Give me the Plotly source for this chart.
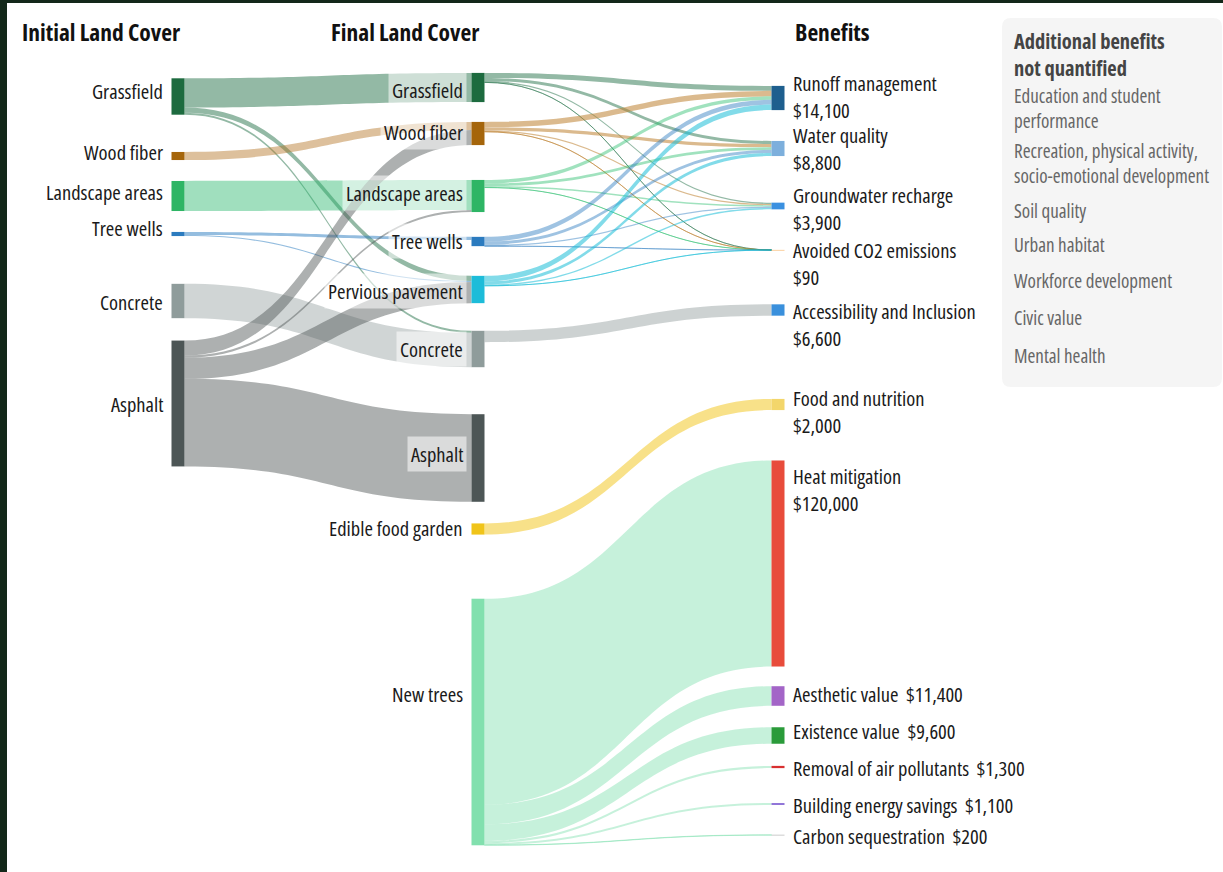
import plotly.graph_objects as go

W, H = 1223, 872

# ---------------- data ----------------
initial_nodes = ["Grassfield", "Wood fiber", "Landscape areas", "Tree wells", "Concrete", "Asphalt"]
final_nodes = ["Grassfield", "Wood fiber", "Landscape areas", "Tree wells", "Pervious pavement",
               "Concrete", "Asphalt", "Edible food garden", "New trees"]
benefit_nodes = ["Runoff management", "Water quality", "Groundwater recharge", "Avoided CO2 emissions",
                 "Accessibility and Inclusion", "Food and nutrition", "Heat mitigation", "Aesthetic value",
                 "Existence value", "Removal of air pollutants", "Building energy savings",
                 "Carbon sequestration"]
benefit_value_labels = ["$14,100", "$8,800", "$3,900", "$90", "$6,600", "$2,000", "$120,000",
                        "$11,400", "$9,600", "$1,300", "$1,100", "$200"]

# initial land cover -> final land cover (band widths, $-equivalent scale)
if_source = ["Grassfield", "Grassfield", "Grassfield", "Wood fiber", "Landscape areas", "Tree wells",
             "Tree wells", "Concrete", "Asphalt", "Asphalt", "Asphalt", "Asphalt"]
if_target = ["Grassfield", "Pervious pavement", "Concrete", "Wood fiber", "Landscape areas", "Tree wells",
             "Pervious pavement", "Concrete", "Wood fiber", "Landscape areas", "Pervious pavement", "Asphalt"]
if_value = [17000, 3000, 1200, 4700, 17500, 1800, 600, 20000, 8800, 1200, 12300, 51000]

# final land cover -> benefits ($)
fb_source = ["Grassfield", "Grassfield", "Grassfield", "Grassfield",
             "Wood fiber", "Wood fiber", "Wood fiber", "Wood fiber",
             "Landscape areas", "Landscape areas", "Landscape areas", "Landscape areas",
             "Tree wells", "Tree wells", "Tree wells", "Tree wells",
             "Pervious pavement", "Pervious pavement", "Pervious pavement", "Pervious pavement",
             "Concrete", "Edible food garden",
             "New trees", "New trees", "New trees", "New trees", "New trees", "New trees"]
fb_target = ["Runoff management", "Water quality", "Groundwater recharge", "Avoided CO2 emissions",
             "Runoff management", "Water quality", "Groundwater recharge", "Avoided CO2 emissions",
             "Runoff management", "Water quality", "Groundwater recharge", "Avoided CO2 emissions",
             "Runoff management", "Water quality", "Groundwater recharge", "Avoided CO2 emissions",
             "Runoff management", "Water quality", "Groundwater recharge", "Avoided CO2 emissions",
             "Accessibility and Inclusion", "Food and nutrition",
             "Heat mitigation", "Aesthetic value", "Existence value", "Removal of air pollutants",
             "Building energy savings", "Carbon sequestration"]
fb_value = [2900, 1800, 800, 20,
            3200, 1800, 700, 20,
            2000, 1600, 800, 20,
            2800, 1800, 800, 15,
            3200, 1800, 800, 15,
            6600, 6500,
            120000, 11400, 9600, 1300, 1100, 200]

additional_title = ["Additional benefits", "not quantified"]
additional_items = [["Education and student", "performance"],
                    ["Recreation, physical activity,", "socio-emotional development"],
                    ["Soil quality"], ["Urban habitat"], ["Workforce development"], ["Civic value"],
                    ["Mental health"]]

column_titles = ["Initial Land Cover", "Final Land Cover", "Benefits"]

# ---------------- styles / layout positions (pixels) ----------------
land_color = {"Grassfield": "#1d6b3f", "Wood fiber": "#a5650b", "Landscape areas": "#2eb565",
              "Tree wells": "#2b7bbf", "Pervious pavement": "#1dbcd9", "Concrete": "#8f9c9b",
              "Asphalt": "#4d5656", "Edible food garden": "#f0c419", "New trees": "#82e0ae"}
link_color_if = {"Grassfield": "rgba(40,115,75,0.5)", "Wood fiber": "rgba(180,115,35,0.45)",
                 "Landscape areas": "rgba(45,185,110,0.45)", "Tree wells": "rgba(42,123,191,0.5)",
                 "Concrete": "rgba(144,156,156,0.42)", "Asphalt": "rgba(80,87,87,0.47)"}
link_color_fb = {"Grassfield": "rgba(40,115,75,0.5)", "Wood fiber": "rgba(190,130,50,0.55)",
                 "Landscape areas": "rgba(45,190,110,0.45)", "Tree wells": "rgba(42,123,191,0.45)",
                 "Pervious pavement": "rgba(28,190,215,0.55)", "Concrete": "rgba(144,156,156,0.45)",
                 "Edible food garden": "rgba(242,200,40,0.55)", "New trees": "rgba(128,224,176,0.45)"}
benefit_color = ["#1e5f8e", "#7dafdc", "#3a90e0", "#f5a040", "#3a90dc", "#f3d66b", "#e84c3b",
                 "#a365c7", "#2a9b3a", "#d83030", "#8c6fd6", "#999999"]

x_cols = [178, 478, 778]
y_initial = [96.5, 156, 196, 234, 301, 403.5]
y_final = [87.5, 133.5, 196, 241.5, 289.5, 349, 458, 529, 722]
y_benefit = [98, 148.5, 206, 250, 310, 404.5, 563.5, 696, 735.5, 767, 804, 835]

lab_y_initial = [91, 152, 192, 228, 302, 404]
lab_y_final = [90, 132, 193, 241, 291, 349, 454, 528, 694]
lab_y_benefit = [96, 149, 209, 264, 324, 411, 489, 694, 731, 768, 805, 836]
item_y = [108, 163, 211, 245, 281, 318, 356]
title_y = 55

FONT = "Open Sans"


def cond(lines, weight=400):
    return "<br>".join('<span style="font-family:%s;font-stretch:condensed;font-weight:%d">%s</span>'
                       % (FONT, weight, ln) for ln in lines)


# ---------------- build sankey ----------------
ids = (["I:" + n for n in initial_nodes] + ["F:" + n for n in final_nodes] +
       ["B:" + n for n in benefit_nodes])
idx = {k: i for i, k in enumerate(ids)}
labels = initial_nodes + final_nodes + benefit_nodes
node_colors = ([land_color[n] for n in initial_nodes] + [land_color[n] for n in final_nodes] +
               benefit_color)
node_x = ([x_cols[0] / W] * len(initial_nodes) + [x_cols[1] / W] * len(final_nodes) +
          [x_cols[2] / W] * len(benefit_nodes))
node_y = [y / H for y in y_initial + y_final + y_benefit]

src = [idx["I:" + s] for s in if_source] + [idx["F:" + s] for s in fb_source]
tgt = [idx["F:" + t] for t in if_target] + [idx["B:" + t] for t in fb_target]
val = if_value + fb_value
lcol = [link_color_if[s] for s in if_source] + [link_color_fb[s] for s in fb_source]

fig = go.Figure(go.Sankey(
    arrangement="fixed",
    domain=dict(x=[0, 1], y=[0, 1]),
    node=dict(label=labels, color=node_colors, x=node_x, y=node_y, pad=39.1, thickness=13,
              line=dict(width=0)),
    link=dict(source=src, target=tgt, value=val, color=lcol),
    textfont=dict(color="rgba(0,0,0,0)", size=1, family=FONT),
))

annotations = []


def ann(lines, xpx, ypx, xanchor, size=20.5, color="#1a1a1a", bg=None, weight=400):
    d = dict(text=cond(lines, weight), x=xpx / W, y=1 - ypx / H,
             xref="paper", yref="paper", xanchor=xanchor, yanchor="middle", showarrow=False,
             align="left" if xanchor == "left" else "right",
             font=dict(family=FONT, size=size, color=color))
    if bg:
        d.update(bgcolor=bg, borderpad=3)
    return d


for n, y in zip(initial_nodes, lab_y_initial):
    annotations.append(ann([n], 165, y, "right"))
for n, y in zip(final_nodes, lab_y_final):
    annotations.append(ann([n], 467, y, "right", bg="rgba(255,255,255,0.55)"))
for i, (n, v, y) in enumerate(zip(benefit_nodes, benefit_value_labels, lab_y_benefit)):
    lines = [n, v] if i < 7 else [n + "\u00a0\u00a0" + v]
    annotations.append(ann(lines, 791, y, "left"))

for t, xp in zip(column_titles, [20, 329, 793]):
    annotations.append(ann([t], xp, 32, "left", size=23.5, color="#111", weight=700))

annotations.append(ann(additional_title, 1012, title_y, "left", size=20.5, color="#444", weight=700))
for t, y in zip(additional_items, item_y):
    annotations.append(ann(t, 1012, y, "left", size=19, color="#666"))

# rounded info box + dark frame
x0, x1 = 1002 / W, 1222 / W
yt, yb = 1 - 18 / H, 1 - 387 / H
rx, ry = 9 / W, 9 / H
box_path = (f"M {x0+rx},{yt} L {x1-rx},{yt} Q {x1},{yt} {x1},{yt-ry} L {x1},{yb+ry} "
            f"Q {x1},{yb} {x1-rx},{yb} L {x0+rx},{yb} Q {x0},{yb} {x0},{yb+ry} "
            f"L {x0},{yt-ry} Q {x0},{yt} {x0+rx},{yt} Z")
shapes = [
    dict(type="path", path=box_path, xref="paper", yref="paper", fillcolor="#f5f5f5",
         line=dict(width=0), layer="below"),
    dict(type="rect", xref="paper", yref="paper", x0=0, x1=7 / W, y0=0, y1=1,
         fillcolor="#13281a", line=dict(width=0)),
    dict(type="rect", xref="paper", yref="paper", x0=0, x1=1, y0=1 - 3 / H, y1=1,
         fillcolor="#13281a", line=dict(width=0)),
]

fig.update_layout(
    width=W, height=H, margin=dict(l=0, r=0, t=0, b=0),
    paper_bgcolor="white", plot_bgcolor="white",
    annotations=annotations, shapes=shapes,
    font=dict(family=FONT),
)

fig.write_html("out.html")
